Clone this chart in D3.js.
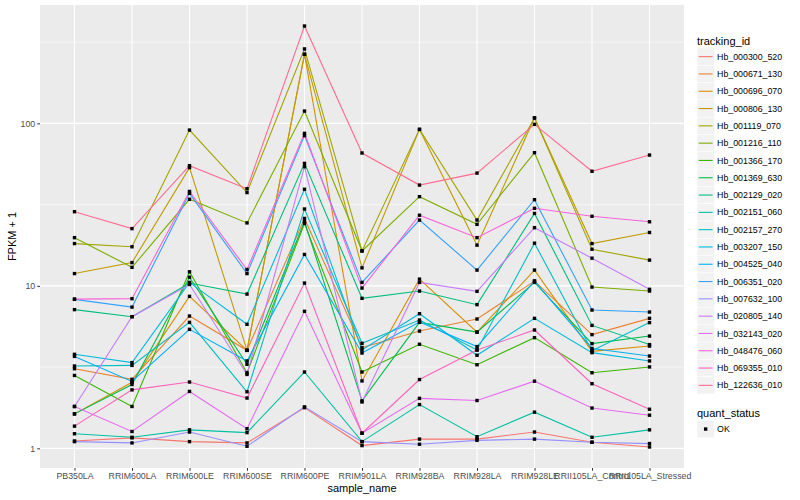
<!DOCTYPE html>
<html>
<head>
<meta charset="utf-8">
<script src="https://cdn.jsdelivr.net/npm/d3@7"></script>
<style>
  body { margin: 0; background: #fff; }
  svg { display: block; font-family: "Liberation Sans", Arial, Helvetica, sans-serif; }
</style>
</head>
<body>
<svg id="chart" width="800" height="500"></svg>
<script>
// x categories
const samples = ["PB350LA", "RRIM600LA", "RRIM600LE", "RRIM600SE", "RRIM600PE", "RRIM901LA",
  "RRIM928BA", "RRIM928LA", "RRIM928LE", "RRII105LA_Control", "RRII105LA_Stressed"];

const trackingIds = ["Hb_000300_520", "Hb_000671_130", "Hb_000696_070", "Hb_000806_130",
  "Hb_001119_070", "Hb_001216_110", "Hb_001366_170", "Hb_001369_630", "Hb_002129_020",
  "Hb_002151_060", "Hb_002157_270", "Hb_003207_150", "Hb_004525_040", "Hb_006351_020",
  "Hb_007632_100", "Hb_020805_140", "Hb_032143_020", "Hb_048476_060", "Hb_069355_010",
  "Hb_122636_010"];

// FPKM + 1, one value per sample
const hb_000300_520 = [1.11, 1.16, 1.10, 1.08, 1.78, 1.04, 1.14, 1.14, 1.26, 1.09, 1.02];
const hb_000671_130 = [3.09, 2.66, 6.52, 4.01, 26.0, 4.17, 5.27, 6.25, 10.7, 5.01, 6.31];
const hb_000696_070 = [1.63, 2.55, 8.62, 4.01, 266, 2.60, 11.0, 5.19, 12.5, 3.95, 4.26];
const hb_000806_130 = [11.9, 13.9, 53.4, 4.01, 266, 12.9, 91.8, 17.8, 108, 18.2, 21.3];
const hb_001119_070 = [18.2, 17.4, 90.9, 37.5, 287, 16.4, 91.8, 25.4, 108, 16.8, 14.4];
const hb_001216_110 = [19.8, 13.0, 34.1, 24.4, 119, 16.4, 35.4, 23.9, 66.0, 9.83, 9.29];
const hb_001366_170 = [2.81, 1.81, 12.2, 2.92, 24.2, 2.95, 4.37, 3.27, 4.80, 2.92, 3.17];
const hb_001369_630 = [1.63, 2.47, 11.3, 3.29, 24.9, 1.96, 5.96, 5.19, 10.5, 4.41, 4.91];
const hb_002129_020 = [7.14, 6.46, 10.4, 8.90, 56.7, 8.38, 9.29, 7.66, 27.9, 5.71, 4.35];
const hb_002151_060 = [1.23, 1.17, 1.30, 1.25, 2.95, 1.10, 1.86, 1.18, 1.67, 1.17, 1.30];
const hb_002157_270 = [3.21, 3.24, 5.96, 2.23, 29.7, 4.43, 6.16, 4.03, 18.3, 3.99, 5.94];
const hb_003207_150 = [3.79, 3.37, 10.5, 5.80, 39.3, 4.03, 6.74, 3.74, 6.31, 3.88, 3.45];
const hb_004525_040 = [3.68, 2.58, 5.40, 3.45, 15.6, 3.86, 5.99, 4.23, 10.7, 4.12, 3.70];
const hb_006351_020 = [8.26, 7.40, 37.1, 11.9, 84.0, 10.5, 25.4, 12.5, 33.9, 7.10, 6.90];
const hb_007632_100 = [1.10, 1.08, 1.26, 1.03, 1.80, 1.10, 1.06, 1.12, 1.14, 1.09, 1.07];
const hb_020805_140 = [1.81, 6.46, 10.2, 2.85, 54.1, 1.93, 10.5, 9.25, 22.8, 14.8, 9.52];
const hb_032143_020 = [1.81, 1.27, 2.24, 1.32, 6.97, 1.24, 2.03, 1.97, 2.59, 1.77, 1.60];
const hb_048476_060 = [8.29, 8.34, 38.1, 12.6, 86.8, 9.69, 27.2, 19.8, 30.0, 26.8, 24.8];
const hb_069355_010 = [1.37, 2.29, 2.56, 2.04, 10.4, 1.24, 2.65, 4.03, 5.35, 2.50, 1.74];
const hb_122636_010 = [28.6, 22.5, 54.9, 39.6, 397, 65.7, 41.7, 49.4, 98.6, 50.7, 63.8];

const seriesValues = [hb_000300_520, hb_000671_130, hb_000696_070, hb_000806_130,
  hb_001119_070, hb_001216_110, hb_001366_170, hb_001369_630, hb_002129_020,
  hb_002151_060, hb_002157_270, hb_003207_150, hb_004525_040, hb_006351_020,
  hb_007632_100, hb_020805_140, hb_032143_020, hb_048476_060, hb_069355_010,
  hb_122636_010];

const yBreaks = [1, 10, 100];
const quantStatus = ["OK"];

// ggplot hue palette, 20 levels
const palette = ["#F8766D", "#EA8331", "#D89000", "#C09B00", "#A3A500", "#7CAE00",
  "#39B600", "#00BB4E", "#00BF7D", "#00C1A3", "#00BFC4", "#00BAE0", "#00B0F6",
  "#35A2FF", "#9590FF", "#C77CFF", "#E76BF3", "#FA62DB", "#FF62BC", "#FF6C91"];

const series = trackingIds.map(function (id, i) {
  return {
    id: id,
    color: palette[i],
    points: samples.map(function (s, j) { return { sample: s, value: seriesValues[i][j] }; })
  };
});

const panel = { left: 40, right: 684, top: 5, bottom: 468 };

const svg = d3.select("#chart");

/* Scales */
const x = d3.scalePoint().domain(samples).range([panel.left, panel.right]).padding(0.6);

const allLogs = seriesValues.flat().map(function (v) { return Math.log10(v); });
const logExt = d3.extent(allLogs);
const pad = (logExt[1] - logExt[0]) * 0.05;
const y = d3.scaleLog()
  .domain([Math.pow(10, logExt[0] - pad), Math.pow(10, logExt[1] + pad)])
  .range([panel.bottom, panel.top]);

// panel background
svg.append("rect")
  .attr("x", panel.left).attr("y", panel.top)
  .attr("width", panel.right - panel.left).attr("height", panel.bottom - panel.top)
  .attr("fill", "#EBEBEB");

// minor grid (midpoints in log space)
const minorBreaks = [Math.pow(10, 0.5), Math.pow(10, 1.5), Math.pow(10, 2.5)];
svg.append("g").selectAll("line").data(minorBreaks).join("line")
  .attr("x1", panel.left).attr("x2", panel.right)
  .attr("y1", function (d) { return y(d); }).attr("y2", function (d) { return y(d); })
  .attr("stroke", "#fff").attr("stroke-width", 0.55);

// major grid
svg.append("g").selectAll("line").data(yBreaks).join("line")
  .attr("x1", panel.left).attr("x2", panel.right)
  .attr("y1", function (d) { return y(d); }).attr("y2", function (d) { return y(d); })
  .attr("stroke", "#fff").attr("stroke-width", 1.1);

svg.append("g").selectAll("line").data(samples).join("line")
  .attr("x1", function (d) { return x(d); }).attr("x2", function (d) { return x(d); })
  .attr("y1", panel.top).attr("y2", panel.bottom)
  .attr("stroke", "#fff").attr("stroke-width", 1.1);

/* Axes */
const yAxis = d3.axisLeft(y).tickValues(yBreaks).tickFormat(d3.format("d")).tickSize(2.75).tickPadding(2);
const xAxis = d3.axisBottom(x).tickSize(2.75).tickPadding(2);

const gy = svg.append("g").attr("transform", "translate(" + panel.left + ",0)").call(yAxis);
const gx = svg.append("g").attr("transform", "translate(0," + panel.bottom + ")").call(xAxis);

[gx, gy].forEach(function (g) {
  g.select(".domain").remove();
  g.selectAll(".tick line").attr("stroke", "#333333").attr("stroke-width", 1);
  g.selectAll(".tick text").attr("fill", "#4D4D4D").attr("font-size", 8.8)
    .attr("font-family", "Liberation Sans, Arial, sans-serif");
});

// axis titles
svg.append("text")
  .attr("x", (panel.left + panel.right) / 2).attr("y", 491.5)
  .attr("text-anchor", "middle").attr("font-size", 11).attr("fill", "#000")
  .text("sample_name");

svg.append("text")
  .attr("transform", "translate(16," + ((panel.top + panel.bottom) / 2) + ") rotate(-90)")
  .attr("text-anchor", "middle").attr("font-size", 11).attr("fill", "#000")
  .text("FPKM + 1");

/* Lines + points */
const line = d3.line()
  .x(function (d) { return x(d.sample); })
  .y(function (d) { return y(d.value); });

const plot = svg.append("g");

plot.selectAll("path").data(series).join("path")
  .attr("d", function (d) { return line(d.points); })
  .attr("fill", "none")
  .attr("stroke", function (d) { return d.color; })
  .attr("stroke-width", 1.1);

const pts = series.flatMap(function (d) { return d.points; });
const ps = 3.4;
plot.append("g").selectAll("rect").data(pts).join("rect")
  .attr("x", function (d) { return x(d.sample) - ps / 2; })
  .attr("y", function (d) { return y(d.value) - ps / 2; })
  .attr("width", ps).attr("height", ps)
  .attr("fill", "#000");

/* Legend */
const legX = 697, keyW = 17.3;
const legend = svg.append("g");

legend.append("text").attr("x", legX).attr("y", 44.5)
  .attr("font-size", 11).attr("fill", "#000").text("tracking_id");

const keys = legend.selectAll("g.key").data(series).join("g")
  .attr("class", "key")
  .attr("transform", function (d, i) { return "translate(" + legX + "," + (48 + i * keyW) + ")"; });

keys.append("rect").attr("width", keyW).attr("height", keyW)
  .attr("fill", "#F2F2F2").attr("stroke", "#fff").attr("stroke-width", 0.5);
keys.append("line").attr("x1", 1.7).attr("x2", keyW - 1.7)
  .attr("y1", keyW / 2).attr("y2", keyW / 2)
  .attr("stroke", function (d) { return d.color; }).attr("stroke-width", 1.1);
keys.append("text").attr("x", keyW + 2.8).attr("y", keyW / 2)
  .attr("dy", "0.35em").attr("font-size", 8.8).attr("fill", "#000")
  .text(function (d) { return d.id; });

legend.append("text").attr("x", legX).attr("y", 416.5)
  .attr("font-size", 11).attr("fill", "#000").text("quant_status");

const qk = legend.selectAll("g.qkey").data(quantStatus).join("g")
  .attr("class", "qkey")
  .attr("transform", function (d, i) { return "translate(" + legX + "," + (420.4 + i * keyW) + ")"; });
qk.append("rect").attr("width", keyW).attr("height", keyW)
  .attr("fill", "#F2F2F2").attr("stroke", "#fff").attr("stroke-width", 0.5);
qk.append("rect").attr("x", keyW / 2 - ps / 2).attr("y", keyW / 2 - ps / 2)
  .attr("width", ps).attr("height", ps).attr("fill", "#000");
qk.append("text").attr("x", keyW + 2.8).attr("y", keyW / 2)
  .attr("dy", "0.35em").attr("font-size", 8.8).attr("fill", "#000")
  .text(function (d) { return d; });
</script>
</body>
</html>
